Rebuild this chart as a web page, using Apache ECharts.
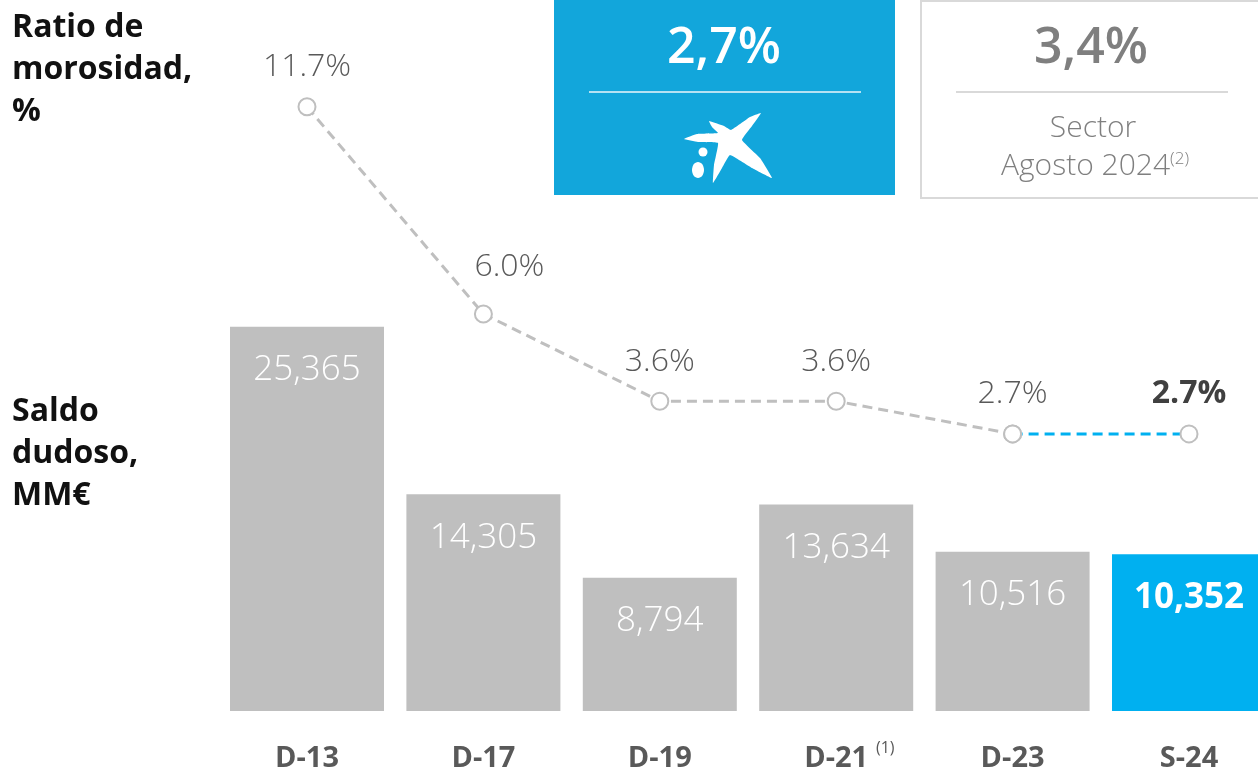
<!DOCTYPE html>
<html>
<head>
<meta charset="utf-8">
<script src="https://cdn.jsdelivr.net/npm/echarts@6/dist/echarts.min.js"></script>
<style>
html,body{margin:0;padding:0;background:#fff;}
#chart{width:1258px;height:773px;}
</style>
</head>
<body>
<div id="chart"></div>
<script>
var categories = ['D-13', 'D-17', 'D-19', 'D-21', 'D-23', 'S-24'];
var saldoDudoso = [25365, 14305, 8794, 13634, 10516, 10352];
var ratioMorosidad = [11.7, 6.0, 3.6, 3.6, 2.7, 2.7];

var FONT = "'Open Sans', 'Noto Sans', sans-serif";
var GREY_BAR = '#bfbfbf';
var BLUE = '#00b0f0';
var TXT = '#595959';

var myChart = echarts.init(document.getElementById('chart'));

// datos de barras: la ultima en azul
var barData = saldoDudoso.map(function (v, i) {
    if (i === saldoDudoso.length - 1) {
        return { value: v, itemStyle: { color: BLUE }, label: { fontWeight: 'bold' } };
    }
    return v;
});

// linea gris hasta D-23, azul el ultimo tramo
var greyLine = ratioMorosidad.map(function (v, i) {
    if (i === ratioMorosidad.length - 1) return '-';
    if (i === 1) return { value: v, label: { offset: [26, -8] } }; // etiqueta 6.0% desplazada
    return v;
});
var blueLine = ratioMorosidad.map(function (v, i) { return i >= ratioMorosidad.length - 2 ? v : '-'; });

var option = {
    animation: false,
    grid: [
        { left: 307, right: 69, top: 105, bottom: 59 },
        { left: 307, right: 69, top: 85, bottom: 241 }
    ],
    xAxis: [
        {
            type: 'category', gridIndex: 0, data: categories, boundaryGap: false,
            axisLine: { show: false }, axisTick: { show: false }, splitLine: { show: false },
            axisLabel: { fontSize: 29, fontWeight: 'bold', color: TXT, fontFamily: FONT, margin: 33 }
        },
        {
            type: 'category', gridIndex: 1, data: categories, boundaryGap: false,
            axisLine: { show: false }, axisTick: { show: false }, axisLabel: { show: false }, splitLine: { show: false }
        }
    ],
    yAxis: [
        { type: 'value', gridIndex: 0, min: 0, max: 40000, show: false, splitLine: { show: false } },
        { type: 'value', gridIndex: 1, min: 0, max: 12.3, show: false, splitLine: { show: false } }
    ],
    series: [
        {
            type: 'bar', xAxisIndex: 0, yAxisIndex: 0,
            data: barData, barWidth: 154,
            itemStyle: { color: GREY_BAR },
            label: {
                show: true, position: 'insideTop', distance: 26,
                fontSize: 35, fontWeight: 300, color: '#fff', fontFamily: FONT,
                formatter: function (p) { return p.value.toLocaleString('en-US'); }
            }
        },
        {
            type: 'line', xAxisIndex: 1, yAxisIndex: 1, data: greyLine,
            symbol: 'circle', symbolSize: 17,
            itemStyle: { color: '#fff', borderColor: GREY_BAR, borderWidth: 2 },
            lineStyle: { color: GREY_BAR, width: 3, type: [10, 6] },
            label: {
                show: true, position: 'top', distance: 14,
                fontSize: 32, fontWeight: 300, color: TXT, fontFamily: FONT,
                formatter: function (p) { return p.value.toFixed(1) + '%'; }
            },
            z: 3
        },
        {
            type: 'line', xAxisIndex: 1, yAxisIndex: 1, data: blueLine,
            symbol: 'circle', symbolSize: 17,
            itemStyle: { color: '#fff', borderColor: GREY_BAR, borderWidth: 2 },
            lineStyle: { color: BLUE, width: 3, type: [10, 6] },
            label: {
                show: true, position: 'top', distance: 14,
                fontSize: 32, fontWeight: 'bold', color: '#404040', fontFamily: FONT,
                formatter: function (p) { return p.dataIndex === ratioMorosidad.length - 1 ? p.value.toFixed(1) + '%' : ''; }
            },
            z: 2
        }
    ],
    graphic: [
        // titulos a la izquierda
        {
            type: 'text', left: 12, top: 7,
            style: { text: 'Ratio de\nmorosidad,\n%', font: 'bold 32px ' + FONT, fill: '#111', lineHeight: 42 }
        },
        {
            type: 'text', left: 12, top: 391,
            style: { text: 'Saldo\ndudoso,\nMM€', font: 'bold 32px ' + FONT, fill: '#111', lineHeight: 42 }
        },
        // nota D-21
        {
            type: 'text', x: 876, y: 740,
            style: { text: '(1)', font: '16px ' + FONT, fill: TXT }
        },
        // caja azul
        { type: 'rect', shape: { x: 554, y: -2, width: 341, height: 197 }, style: { fill: '#12a6db' } },
        { type: 'line', shape: { x1: 589, y1: 92, x2: 861, y2: 92 }, style: { stroke: '#b5e2f3', lineWidth: 2 } },
        {
            type: 'text', x: 724, y: 49,
            style: { text: '2,7%', font: '600 50px ' + FONT, fill: '#fff', align: 'center', verticalAlign: 'middle' }
        },
        // logo
        {
            type: 'polygon',
            shape: {
                points: [[709, 121], [724, 126], [731, 130], [750, 117], [761, 113], [752, 126],
                         [742, 140], [760, 158], [772, 178], [752, 168], [730, 155], [722, 168],
                         [713, 183], [714, 165], [718, 143], [698, 142], [684, 139], [697, 134],
                         [718, 133], [712, 127]],
                smooth: 0.1
            },
            style: { fill: '#fff' }
        },
        { type: 'circle', shape: { cx: 703, cy: 152, r: 4.5 }, style: { fill: '#fff' } },
        { type: 'ellipse', shape: { cx: 698, cy: 170, rx: 6, ry: 8 }, style: { fill: '#fff' } },
        // caja gris
        { type: 'rect', shape: { x: 921, y: 1, width: 340, height: 197 }, style: { fill: '#fff', stroke: '#d9d9d9', lineWidth: 2 } },
        { type: 'line', shape: { x1: 956, y1: 92, x2: 1228, y2: 92 }, style: { stroke: '#d9d9d9', lineWidth: 2 } },
        {
            type: 'text', x: 1091, y: 49,
            style: { text: '3,4%', font: '600 50px ' + FONT, fill: '#7f7f7f', align: 'center', verticalAlign: 'middle' }
        },
        {
            type: 'text', x: 1093, y: 128,
            style: { text: 'Sector', font: '300 30px ' + FONT, fill: '#7f7f7f', align: 'center', verticalAlign: 'middle' }
        },
        {
            type: 'text', x: 1095, y: 166,
            style: {
                text: 'Agosto 2024{s|(2)}', align: 'center', verticalAlign: 'middle',
                font: '300 30px ' + FONT, fill: '#7f7f7f',
                rich: { s: { fontSize: 17, fontWeight: 300, fill: '#7f7f7f', fontFamily: FONT, verticalAlign: 'top', padding: [0, 0, 14, 0] } }
            }
        }
    ]
};

myChart.setOption(option);
window.onresize = function () {
    myChart.resize();
};
</script>
</body>
</html>
